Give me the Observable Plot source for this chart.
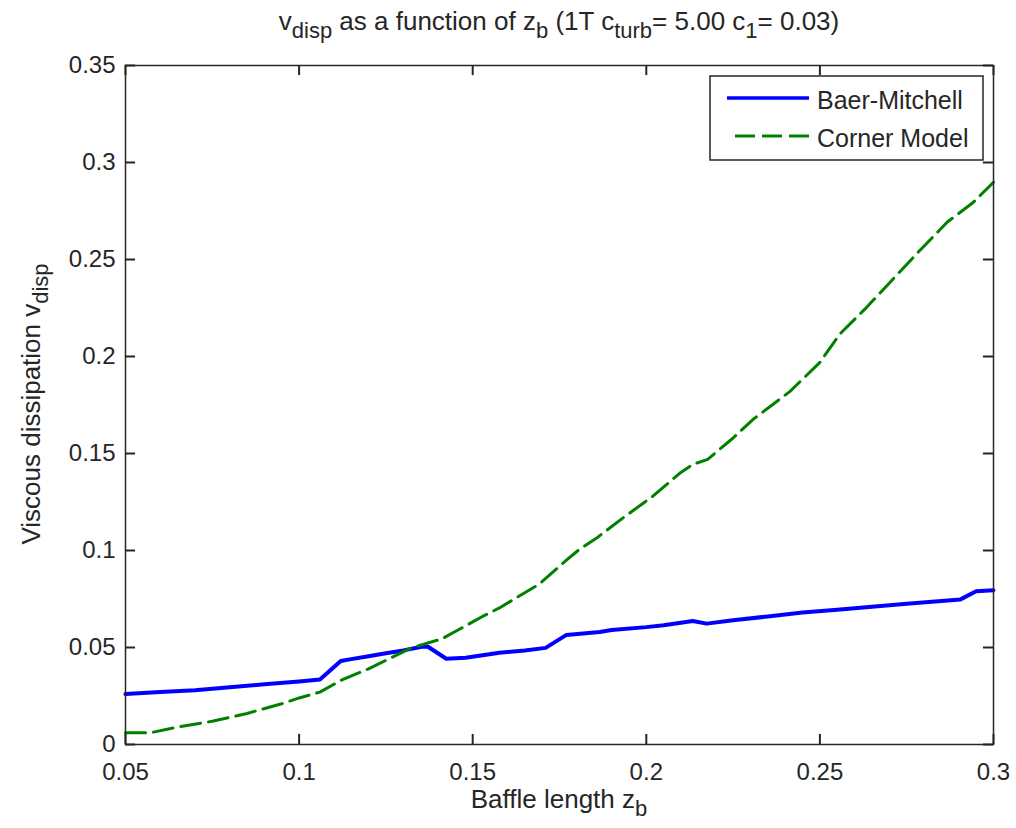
<!DOCTYPE html>
<html><head><meta charset="utf-8">
<script src="https://cdn.jsdelivr.net/npm/d3@7"></script>
<script src="https://cdn.jsdelivr.net/npm/@observablehq/plot@0.6"></script>
<style>body{margin:0;background:#fff} svg{display:block}</style>
</head><body><div id="chart"></div>
<script>
const xTicks = [0.05, 0.1, 0.15, 0.2, 0.25, 0.3];
const yTicks = [0, 0.05, 0.1, 0.15, 0.2, 0.25, 0.3, 0.35];
const seriesNames = ["Baer-Mitchell", "Corner Model"];

const bmX = [0.05, 0.055, 0.06, 0.07, 0.08, 0.09, 0.1, 0.106, 0.112, 0.115, 0.12, 0.125, 0.13, 0.1354, 0.137, 0.1424, 0.148, 0.1577, 0.165, 0.171, 0.177, 0.1866, 0.19, 0.2, 0.205, 0.2134, 0.2174, 0.225, 0.235, 0.245, 0.255, 0.265, 0.275, 0.285, 0.2905, 0.295, 0.3];
const bmY = [0.026, 0.0265, 0.027, 0.028, 0.0295, 0.031, 0.0325, 0.0335, 0.043, 0.044, 0.0455, 0.047, 0.0485, 0.0504, 0.0505, 0.0442, 0.0447, 0.0473, 0.0485, 0.0498, 0.0565, 0.058, 0.059, 0.0605, 0.0615, 0.0637, 0.0623, 0.064, 0.066, 0.068, 0.0695, 0.071, 0.0725, 0.074, 0.0748, 0.079, 0.0795];

const cmX = [0.05, 0.057, 0.065, 0.075, 0.085, 0.095, 0.1, 0.106, 0.112, 0.12, 0.1326, 0.1412, 0.1528, 0.1577, 0.1692, 0.177, 0.1808, 0.1857, 0.1932, 0.2019, 0.2096, 0.2134, 0.2177, 0.225, 0.2307, 0.2414, 0.25, 0.2558, 0.2636, 0.2711, 0.2789, 0.2867, 0.2942, 0.3];
const cmY = [0.006, 0.006, 0.009, 0.012, 0.016, 0.021, 0.024, 0.027, 0.033, 0.039, 0.050, 0.0545, 0.066, 0.0704, 0.0827, 0.095, 0.1007, 0.1064, 0.1167, 0.128, 0.1398, 0.1444, 0.147, 0.158, 0.1675, 0.182, 0.197, 0.2117, 0.2256, 0.240, 0.2549, 0.2693, 0.2795, 0.2898];

const bm = bmX.map((x, i) => ({x, y: bmY[i]}));
const cm = cmX.map((x, i) => ({x, y: cmY[i]}));

const FONT = "'Liberation Sans', Arial, Helvetica, sans-serif";
const INK = "#262626";
const fmt = d => String(+d.toFixed(2));

const W = 1016, H = 828, ML = 125, MR = 23, MT = 65, MB = 84;
// inward tick length (~10px) expressed in each scale's units
const TLY = 0.0052, TLX = 0.0029;

const plot = Plot.plot({
  width: W, height: H,
  marginLeft: ML, marginRight: MR, marginTop: MT, marginBottom: MB,
  style: {fontFamily: FONT, fontSize: "24px", color: INK, background: "#fff"},
  x: {domain: [0.05, 0.3]},
  y: {domain: [0, 0.35]},
  marks: [
    Plot.axisX(xTicks, {anchor: "bottom", tickSize: 0, tickPadding: 18, tickFormat: fmt, fontSize: 24, label: null}),
    Plot.axisY(yTicks, {anchor: "left", tickSize: 0, tickPadding: 10, tickFormat: fmt, fontSize: 24, label: null}),
    Plot.ruleX(xTicks, {x: d => d, y1: 0, y2: TLY, stroke: INK, strokeWidth: 2}),
    Plot.ruleX(xTicks, {x: d => d, y1: 0.35 - TLY, y2: 0.35, stroke: INK, strokeWidth: 2}),
    Plot.ruleY(yTicks, {y: d => d, x1: 0.05, x2: 0.05 + TLX, stroke: INK, strokeWidth: 2}),
    Plot.ruleY(yTicks, {y: d => d, x1: 0.3 - TLX, x2: 0.3, stroke: INK, strokeWidth: 2}),
    Plot.line(bm, {x: "x", y: "y", stroke: "#0000ff", strokeWidth: 4}),
    Plot.line(cm, {x: "x", y: "y", stroke: "#008000", strokeWidth: 3, strokeDasharray: "20,8"}),
    Plot.frame({stroke: INK, strokeWidth: 1.5})
  ]
});

const svg = d3.select(plot);

function subText(parent, parts, attrs, size, subSize) {
  const t = parent.append("text").attr("font-family", FONT).attr("font-size", size).attr("fill", INK);
  Object.entries(attrs).forEach(([k, v]) => t.attr(k, v));
  let down = false;
  parts.forEach(([s, sub]) => {
    const ts = t.append("tspan").text(s);
    if (sub && !down) { ts.attr("dy", 8).attr("font-size", subSize); down = true; }
    else if (sub) { ts.attr("font-size", subSize); }
    else if (down) { ts.attr("dy", -8); down = false; }
  });
  return t;
}

subText(svg, [["v", false], ["disp", true], [" as a function of z", false], ["b", true], [" (1T c", false], ["turb", true], ["= 5.00 c", false], ["1", true], ["= 0.03)", false]],
  {x: 559, y: 30, "text-anchor": "middle"}, 26, 22);

subText(svg, [["Baffle length z", false], ["b", true]],
  {x: 559, y: 808, "text-anchor": "middle"}, 26, 22);

subText(svg, [["Viscous dissipation v", false], ["disp", true]],
  {transform: "translate(40,404) rotate(-90)", "text-anchor": "middle"}, 26, 22);

const lg = svg.append("g");
lg.append("rect").attr("x", 710).attr("y", 76).attr("width", 273).attr("height", 84)
  .attr("fill", "#fff").attr("stroke", INK).attr("stroke-width", 1.5);
lg.append("line").attr("x1", 727).attr("x2", 809).attr("y1", 98).attr("y2", 98)
  .attr("stroke", "#0000ff").attr("stroke-width", 3.5);
lg.append("line").attr("x1", 735).attr("x2", 809).attr("y1", 136).attr("y2", 136)
  .attr("stroke", "#008000").attr("stroke-width", 3).attr("stroke-dasharray", "20,7");
lg.append("text").attr("x", 817).attr("y", 100).attr("dominant-baseline", "central").attr("text-anchor", "start")
  .attr("font-family", FONT).attr("font-size", 25).attr("fill", INK).text(seriesNames[0]);
lg.append("text").attr("x", 817).attr("y", 138).attr("dominant-baseline", "central").attr("text-anchor", "start")
  .attr("font-family", FONT).attr("font-size", 25).attr("fill", INK).text(seriesNames[1]);

document.getElementById("chart").appendChild(plot);
</script>
</body></html>
